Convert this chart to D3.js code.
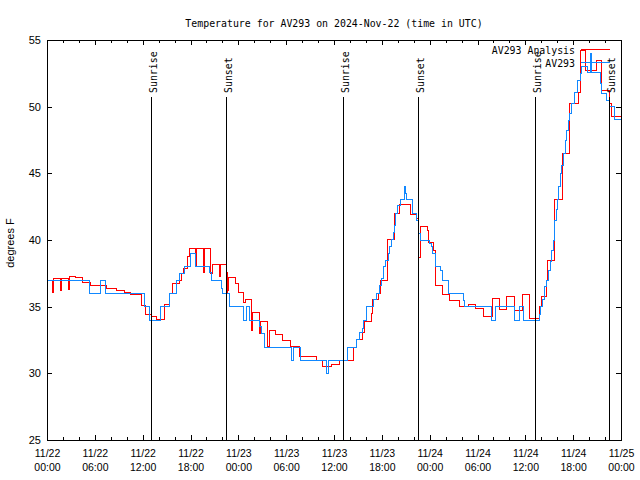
<!DOCTYPE html>
<html><head><meta charset="utf-8">
<script src="https://cdn.jsdelivr.net/npm/d3@7"></script>
<style>body{margin:0;background:#fff}svg{display:block}</style>
</head><body>
<svg id="c" width="640" height="480"></svg>
<script>
const titleText = "Temperature for AV293 on 2024-Nov-22 (time in UTC)";
const yAxisLabel = "degrees F";
const seriesNames = ["AV293 Analysis", "AV293"];
const seriesColors = ["#ff0000", "#1188ff"];
const startUTC = Date.UTC(2024, 10, 22, 0, 0);
const endUTC = Date.UTC(2024, 10, 25, 0, 0);
const yTicks = [25, 30, 35, 40, 45, 50, 55];

// Analysis series (hours since 11/22 00:00 UTC, deg F)
const analysisHours = [0,0.65,0.78,1.65,1.78,2.65,2.8,3.6,4.5,5.4,7.5,8.7,9.7,10.5,11.8,12.4,13.1,13.75,14.7,15.35,15.75,16.6,16.9,17.1,17.6,17.9,18.6,18.75,19.6,19.75,20.57,20.7,21.6,21.72,22.5,22.6,22.7,22.8,22.95,23.6,24.0,24.6,24.95,25.7,25.8,26.6,26.75,27.7,27.85,28.7,29.6,30.5,31.7,33.75,34.6,35.7,36.75,38.5,38.85,39.55,39.8,40.7,40.85,41.55,41.8,42.7,43.65,44.2,45.65,46.35,46.55,46.9,47.7,47.9,48.45,48.75,49.6,50.55,51.7,52.85,53.8,54.7,55.9,56.7,57.7,58.7,59.65,60.5,61.75,62.05,62.6,62.8,63.6,64.7,65.6,66.65,66.9,67.6,68.95,69.6,70.6,70.8,72];
const analysisTemps = [37.0,36.1,37.1,36.2,37.1,36.3,37.25,37.2,36.8,36.6,36.4,36.25,36.1,35.95,35.1,34.4,34.3,34.07,35.2,36.0,36.75,37.0,37.5,37.9,38.8,39.4,38.0,39.4,37.6,39.4,37.5,38.2,37.3,38.2,36.0,37.6,36.2,37.2,37.2,36.75,36.05,35.3,35.55,33.25,34.6,33.0,33.9,32.0,33.2,32.9,32.5,32.0,31.3,30.95,30.55,30.7,31.0,31.95,32.55,33.05,33.9,34.5,35.55,36.0,37.0,40.05,42.0,42.7,41.9,41.6,38.7,41.05,40.75,39.8,39.25,36.6,35.9,35.5,35.05,35.15,34.9,34.3,35.6,34.8,35.8,34.75,35.9,34.1,35.0,35.75,37.0,38.5,43.05,46.5,50.25,51.1,54.2,52.75,53.45,51.25,50.25,49.3,49.3];

// Observed series
const obsHours = [0,5.3,6.7,7.4,12.2,12.9,14.25,15.35,16.2,16.6,17.2,17.95,18.57,20.4,20.6,21.9,22.0,22.95,24.7,25.05,25.4,26.6,26.85,27.25,30.7,30.95,31.85,35.1,35.25,37.67,38.85,39.2,39.55,39.7,40.1,40.95,41.35,41.65,42.0,42.2,42.5,42.8,42.95,43.2,43.45,43.55,43.7,44.0,44.3,44.8,44.85,45.0,45.1,45.9,46.35,46.6,46.8,47.95,48.2,48.4,48.67,49.4,49.6,50.4,52.2,52.35,55.8,56.3,58.7,59.25,59.8,61.75,61.9,62.2,62.45,62.7,62.9,63.1,63.3,63.5,63.7,63.85,64.0,64.2,64.35,64.5,64.8,65.0,65.2,65.4,65.6,65.8,66.2,66.5,66.9,67.1,67.8,68.2,68.3,69.4,69.6,70.2,70.6,71.2,72];
const obsTemps = [37.0,36.0,37.0,36.0,35.05,34.0,35.0,36.0,37.0,37.5,38.05,39.0,38.05,37.55,37.0,36.4,36.0,35.05,34.0,35.05,34.0,33.5,33.0,31.95,31.0,31.95,31.0,30.0,31.0,31.95,32.55,33.05,33.4,34.0,35.0,35.55,36.0,36.6,37.1,38.0,38.5,39.0,39.5,40.05,40.6,41.1,42.0,42.6,43.05,43.5,44.05,43.5,43.05,42.0,41.5,40.5,40.0,39.75,39.5,39.0,38.0,37.75,37.0,36.0,35.5,35.05,34.0,35.05,34.0,35.05,34.0,34.4,35.05,35.55,36.5,37.0,37.75,38.4,39.25,40.0,41.5,42.3,43.05,44.0,45.0,45.6,46.5,47.5,48.25,49.0,49.5,50.25,51.1,52.0,52.5,53.05,52.6,54.0,52.6,51.75,51.0,50.5,50.0,49.05,49.05];

const sunHours = [13.05, 22.45, 37.17, 46.58, 61.25, 70.53];
const sunLabels = ["Sunrise", "Sunset", "Sunrise", "Sunset", "Sunrise", "Sunset"];

const toDate = h => new Date(startUTC + h * 3600000);
const analysis = analysisHours.map((h, i) => ({date: toDate(h), v: analysisTemps[i]}));
const obs = obsHours.map((h, i) => ({date: toDate(h), v: obsTemps[i]}));

const L = 47, R = 621, T = 40, B = 440;
const svg = d3.select("#c");
const x = d3.scaleUtc().domain([new Date(startUTC), new Date(endUTC)]).range([L, R]);
const y = d3.scaleLinear().domain([25, 55]).range([B, T]);

const mono = "'DejaVu Sans Mono', monospace";
const sans = "'Liberation Sans', Arial, sans-serif";

// title
svg.append("text").attr("x", (L + R) / 2).attr("y", 27).attr("text-anchor", "middle")
  .attr("font-family", mono).attr("font-size", 9.9).text(titleText);

// y label
svg.append("text").attr("transform", "translate(14,243) rotate(-90)").attr("text-anchor", "middle")
  .attr("font-family", sans).attr("font-size", 11).text(yAxisLabel);

const majorTicks = d3.utcHour.every(6).range(new Date(startUTC), new Date(endUTC + 1));
const minorTicks = d3.utcHour.every(2).range(new Date(startUTC), new Date(endUTC + 1)).filter(d => d.getUTCHours() % 6 !== 0);

const fmtDay = d3.utcFormat("%m/%d"), fmtTime = d3.utcFormat("%H:%M");

// bottom axis
const gB = svg.append("g").attr("transform", `translate(0,${B})`)
  .call(d3.axisBottom(x).tickValues(majorTicks).tickSizeInner(-5).tickSizeOuter(0).tickPadding(8).tickFormat(d => fmtDay(d)));
gB.selectAll(".tick text").each(function(d) {
  const t = d3.select(this);
  t.text(null).attr("y", 0).attr("dy", null);
  t.append("tspan").attr("x", 0).attr("y", 17).text(fmtDay(d));
  t.append("tspan").attr("x", 0).attr("y", 31).text(fmtTime(d));
});
gB.attr("font-family", sans).attr("font-size", 10.5);
svg.append("g").attr("transform", `translate(0,${B})`)
  .call(d3.axisBottom(x).tickValues(minorTicks).tickSizeInner(-3).tickSizeOuter(0).tickFormat(""));
// top axis
svg.append("g").attr("transform", `translate(0,${T})`)
  .call(d3.axisTop(x).tickValues(majorTicks).tickSizeInner(-5).tickSizeOuter(0).tickFormat(""));
svg.append("g").attr("transform", `translate(0,${T})`)
  .call(d3.axisTop(x).tickValues(minorTicks).tickSizeInner(-3).tickSizeOuter(0).tickFormat(""));
// left axis
const gL = svg.append("g").attr("transform", `translate(${L},0)`)
  .call(d3.axisLeft(y).tickValues(yTicks).tickSizeInner(-5).tickSizeOuter(0).tickPadding(6).tickFormat(d3.format("d")));
gL.attr("font-family", sans).attr("font-size", 11);
// right axis
svg.append("g").attr("transform", `translate(${R},0)`)
  .call(d3.axisRight(y).tickValues(yTicks).tickSizeInner(-5).tickSizeOuter(0).tickFormat(""));

svg.selectAll(".domain").remove();
svg.selectAll(".tick line").attr("stroke", "#000").attr("shape-rendering", "crispEdges");
svg.selectAll(".tick text").attr("fill", "#000");

// data lines
const line = d3.line().x(d => x(d.date)).y(d => y(d.v)).curve(d3.curveStepAfter);
[analysis, obs].forEach((s, i) => {
  svg.append("path").datum(s).attr("d", line).attr("fill", "none")
    .attr("stroke", seriesColors[i]).attr("stroke-width", 1).attr("shape-rendering", "crispEdges");
});

// sunrise / sunset lines
sunHours.forEach((h, i) => {
  const xx = Math.round(x(toDate(h))) + 0.5;
  svg.append("line").attr("x1", xx).attr("x2", xx).attr("y1", 97).attr("y2", B)
    .attr("stroke", "#000").attr("stroke-width", 1);
  svg.append("text").attr("transform", `translate(${xx + 5},93) rotate(-90)`)
    .attr("font-family", mono).attr("font-size", 9.9).text(sunLabels[i]);
});

// legend
seriesNames.forEach((n, i) => {
  const yy = 50 + i * 12.5;
  svg.append("text").attr("x", 575).attr("y", yy + 4).attr("text-anchor", "end")
    .attr("font-family", mono).attr("font-size", 9.9).text(n);
  svg.append("line").attr("x1", 581).attr("x2", 610).attr("y1", Math.round(yy) - 0.5).attr("y2", Math.round(yy) - 0.5)
    .attr("stroke", seriesColors[i]).attr("stroke-width", 1);
});

// border
svg.append("rect").attr("x", L + 0.5).attr("y", T + 0.5).attr("width", R - L).attr("height", B - T)
  .attr("fill", "none").attr("stroke", "#000").attr("stroke-width", 1).attr("shape-rendering", "crispEdges");
</script>
</body></html>
